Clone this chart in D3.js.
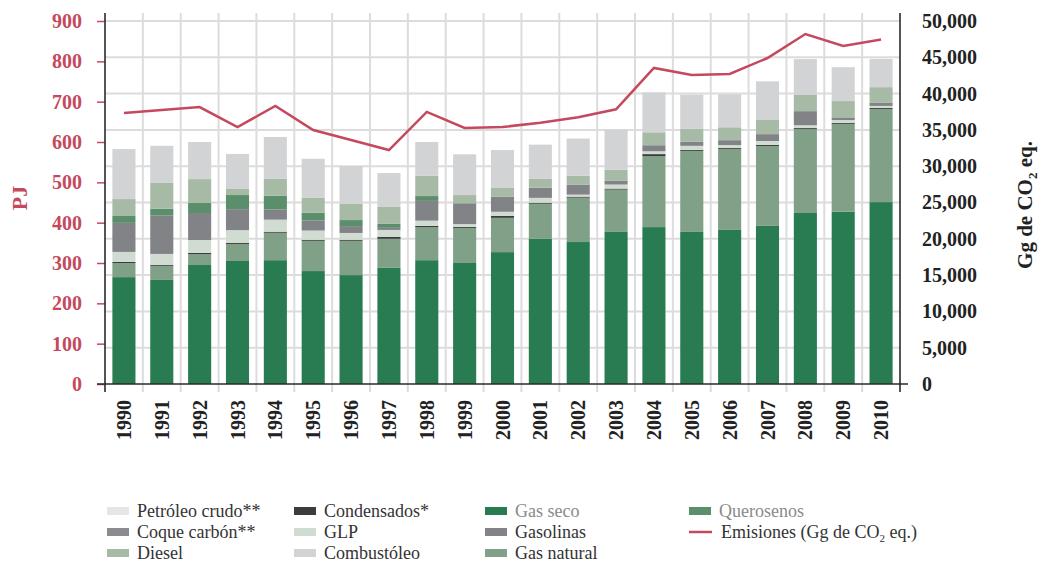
<!DOCTYPE html>
<html>
<head>
<meta charset="utf-8">
<script src="https://cdn.jsdelivr.net/npm/d3@7"></script>
<style>
  body { margin: 0; background: #fff; }
  svg { font-family: "Liberation Serif", "DejaVu Serif", serif; }
</style>
</head>
<body>
<div id="chart"></div>
<script>
// data (PJ per fuel, emissions in Gg CO2 eq.)
const years = d3.range(1990, 2011).map(String);

const gasSeco     = [265, 258, 295, 305, 307, 280, 270, 288, 307, 300, 327, 360, 352, 377, 389, 377, 382, 392, 424, 427, 451];
const gasNatural  = [35, 35, 27, 42, 68, 75, 85, 72, 82, 87, 85, 87, 110, 105, 176, 201, 201, 198, 208, 218, 231];
const condensados = [2.5, 2.5, 3, 2.5, 2.5, 2.5, 2.5, 5, 3, 2.5, 5, 2.5, 2.5, 2.5, 5, 2.5, 2.5, 2.5, 2.5, 2.5, 2.5];
const glp         = [25, 27, 32, 32, 30, 23, 17, 17, 13, 7, 10, 12, 5, 10, 7, 10, 7, 10, 7, 7, 5];
const gasolinas   = [72, 95, 67, 52, 25, 25, 17, 7, 49, 51, 37, 25, 25, 10, 15, 10, 12, 17, 35, 5, 7.5];
const coque       = [0, 0, 0, 0, 0, 0, 0, 0, 0, 0, 0, 0, 0, 0, 0, 0, 0, 0, 0, 0, 0];
const querosenos  = [17, 17, 25, 35, 34, 19, 15, 8, 12, 1, 0, 0, 0, 0, 0, 0, 0, 0, 0, 0, 0];
const diesel      = [42, 64, 59, 15, 42, 37, 40, 42, 50, 20, 22, 22, 22, 27, 32, 32, 32, 35, 40, 42, 39];
const combustoleo = [124, 92, 92, 87, 104, 97, 94, 84, 84, 101, 94, 85, 92, 99, 99, 85, 82, 96, 89, 84, 70];
const petroleo    = [0, 0, 0, 0, 0, 0, 0, 0, 0, 0, 0, 0, 0, 0, 0, 0, 0, 0, 0, 0, 0];

const emisiones = [37330, 37740, 38150, 35400, 38290, 34990, 33610, 32230, 37470, 35260, 35400,
                   35990, 36730, 37840, 43530, 42560, 42700, 44900, 48210, 46560, 47450];

const pjTicks = [0, 100, 200, 300, 400, 500, 600, 700, 800, 900];
const ggTicks = [0, 5000, 10000, 15000, 20000, 25000, 30000, 35000, 40000, 45000, 50000];

// stack order bottom -> top
const seriesKeys = ["Gas seco", "Gas natural", "Condensados*", "GLP", "Gasolinas",
                    "Coque carbón**", "Querosenos", "Diesel", "Combustóleo", "Petróleo crudo**"];
const seriesValues = [gasSeco, gasNatural, condensados, glp, gasolinas,
                      coque, querosenos, diesel, combustoleo, petroleo];
const seriesColors = ["#297b52", "#80a088", "#3c3c3c", "#d0dcd2", "#828387",
                      "#8c8c90", "#5b8f6c", "#a6baa6", "#d2d3d5", "#e6e6e8"];

// legend layout (columns)
const legendCols = [
    ["Petróleo crudo**", "Coque carbón**", "Diesel"],
    ["Condensados*", "GLP", "Combustóleo"],
    ["Gas seco", "Gasolinas", "Gas natural"],
    ["Querosenos", "Emisiones"]
];

const width = 1040, height = 562;
const plot = { left: 105, right: 900, top: 21, bottom: 384 };
const red = "#c5495e";
const dark = "#222";

const table = years.map((yr, i) => {
    const row = { year: yr };
    seriesKeys.forEach((k, j) => row[k] = seriesValues[j][i]);
    return row;
});
const stacked = d3.stack().keys(seriesKeys)(table);
const colorOf = d3.scaleOrdinal().domain(seriesKeys).range(seriesColors);

const svg = d3.select("#chart")
    .append("svg")
    .attr("width", width)
    .attr("height", height);

const x = d3.scaleBand()
    .domain(years)
    .range([plot.left, plot.right])
    .paddingInner(0.39)
    .paddingOuter(0.195);

const yL = d3.scaleLinear().domain([0, 900]).range([plot.bottom, plot.top]);
const yR = d3.scaleLinear().domain([0, 50000]).range([plot.bottom, plot.top]);

const ext = 8;
const grid = svg.append("g").attr("class", "grid");

// horizontal gridlines follow the right axis ticks
grid.selectAll("line.h")
    .data(ggTicks.filter(d => d > 0))
    .enter()
    .append("line")
    .attr("class", "h")
    .attr("x1", plot.left).attr("x2", plot.right)
    .attr("y1", d => yR(d)).attr("y2", d => yR(d))
    .style("stroke", "#dcdcdc")
    .style("stroke-width", 2);

// vertical gridlines between the years
const step = x.step();
grid.selectAll("line.v")
    .data(years.slice(1))
    .enter()
    .append("line")
    .attr("class", "v")
    .attr("x1", d => x(d) - (step - x.bandwidth()) / 2)
    .attr("x2", d => x(d) - (step - x.bandwidth()) / 2)
    .attr("y1", yL(900) - ext).attr("y2", yL(0) + ext)
    .style("stroke", "#dcdcdc")
    .style("stroke-width", 2);

// stacked bars
svg.append("g")
    .selectAll("g")
    .data(stacked)
    .enter()
    .append("g")
    .style("fill", d => colorOf(d.key))
    .selectAll("rect")
    .data(d => d)
    .enter()
    .append("rect")
    .attr("x", d => x(d.data.year))
    .attr("width", x.bandwidth())
    .attr("y", d => yL(d[1]))
    .attr("height", d => yL(d[0]) - yL(d[1]));

// emissions line
const line = d3.line()
    .x((d, i) => x(years[i]) + x.bandwidth() / 2)
    .y(d => yR(d));

svg.append("path")
    .datum(emisiones)
    .attr("d", line)
    .style("fill", "none")
    .style("stroke", red)
    .style("stroke-width", 2.5)
    .style("stroke-linejoin", "miter");

// left axis
const axL = svg.append("g")
    .attr("transform", `translate(${plot.left},0)`)
    .call(d3.axisLeft(yL).tickValues(pjTicks).tickSize(8).tickPadding(15));
axL.select(".domain").remove();
axL.selectAll(".tick line").style("stroke", red).style("stroke-width", 1.5);
axL.selectAll(".tick text")
    .style("fill", red)
    .style("font-size", "20px")
    .style("font-weight", "bold")
    .style("font-family", "Liberation Serif, serif");

// right axis
const axR = svg.append("g")
    .attr("transform", `translate(${plot.right},0)`)
    .call(d3.axisRight(yR).tickValues(ggTicks).tickSize(0).tickPadding(22).tickFormat(d3.format(",")));
axR.select(".domain").remove();
axR.selectAll(".tick text")
    .style("fill", dark)
    .style("font-size", "20px")
    .style("font-weight", "bold")
    .style("font-family", "Liberation Serif, serif");

// axis lines
const axisLines = svg.append("g").style("stroke", "#2a2a2a").style("stroke-width", 1.6);
[plot.left, plot.right].forEach(px => {
    axisLines.append("line")
        .attr("x1", px).attr("x2", px)
        .attr("y1", yL(900) - ext).attr("y2", yL(0) + ext);
});
axisLines.append("line")
    .attr("x1", plot.left - ext).attr("x2", plot.right + ext)
    .attr("y1", yL(0)).attr("y2", yL(0));

// year labels
svg.append("g")
    .selectAll("text")
    .data(years)
    .enter()
    .append("text")
    .attr("transform", d => `translate(${x(d) + x.bandwidth() / 2 + 7},400) rotate(-90)`)
    .attr("text-anchor", "end")
    .style("font-size", "20px")
    .style("font-weight", "bold")
    .style("fill", dark)
    .text(d => d);

// axis titles
svg.append("text")
    .attr("transform", "translate(27,198) rotate(-90)")
    .attr("text-anchor", "middle")
    .style("font-size", "22px")
    .style("font-weight", "bold")
    .style("fill", red)
    .text("PJ");

const rt = svg.append("text")
    .attr("transform", "translate(1032,205) rotate(-90)")
    .attr("text-anchor", "middle")
    .style("font-size", "21px")
    .style("font-weight", "bold")
    .style("fill", dark);
rt.append("tspan").text("Gg de CO");
rt.append("tspan").attr("dy", 5).style("font-size", "13px").text("2");
rt.append("tspan").attr("dy", -5).text(" eq.");

// legend
const colX = [107, 294, 485, 689];
const rowY = [511, 532, 553];
const legend = svg.append("g").attr("class", "legend");
legendCols.forEach((col, ci) => {
    col.forEach((name, ri) => {
        const g = legend.append("g")
            .attr("transform", `translate(${colX[ci]},${rowY[ri]})`);
        if (name === "Emisiones") {
            g.append("line")
                .attr("x1", 0).attr("x2", 23)
                .attr("y1", 0).attr("y2", 0)
                .style("stroke", red)
                .style("stroke-width", 2.5);
            const t = g.append("text")
                .attr("x", 32).attr("y", 6)
                .style("font-size", "18px")
                .style("fill", "#333");
            t.append("tspan").text("Emisiones (Gg de CO");
            t.append("tspan").attr("dy", 4).style("font-size", "11px").text("2");
            t.append("tspan").attr("dy", -4).text(" eq.)");
            return;
        }
        g.append("rect")
            .attr("x", 0).attr("y", -4)
            .attr("width", 22).attr("height", 8)
            .style("fill", colorOf(name));
        g.append("text")
            .attr("x", 30).attr("y", 6)
            .style("font-size", "18px")
            .style("fill", (name === "Gas seco" || name === "Querosenos") ? "#8a8a8a" : "#333")
            .text(name);
    });
});
</script>
</body>
</html>
